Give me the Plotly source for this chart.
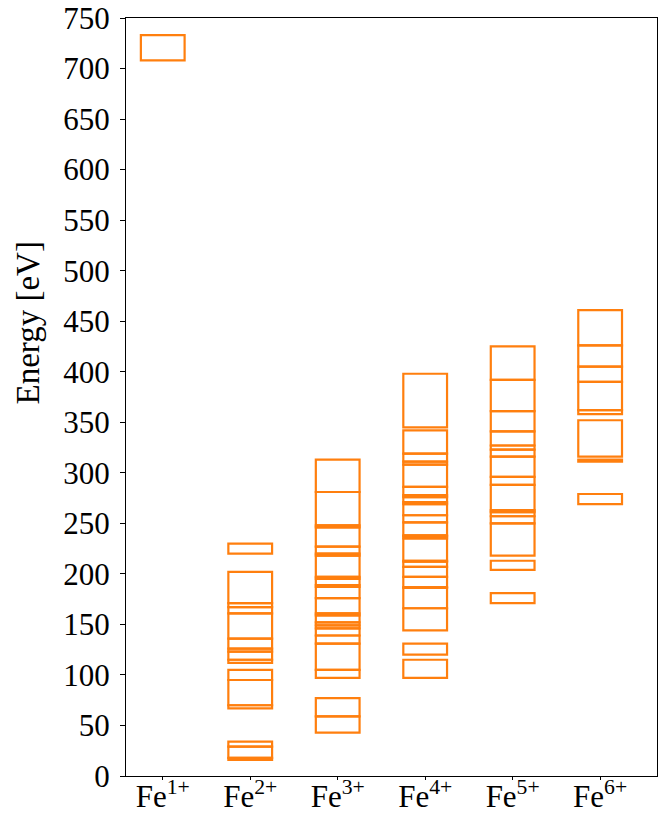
import plotly.graph_objects as go

ions = ["Fe<sup>1+</sup>", "Fe<sup>2+</sup>", "Fe<sup>3+</sup>", "Fe<sup>4+</sup>", "Fe<sup>5+</sup>", "Fe<sup>6+</sup>"]

# energy levels (eV) per ion; each inner list is a contiguous stack of levels
fe1_levels = [[708, 733]]
fe2_levels = [[16, 18, 29, 34], [67, 70, 95, 105],
              [112, 115, 123, 126, 136, 161, 167, 171, 202], [220, 230]]
fe3_levels = [[43, 59, 77],
              [97, 105, 131, 139, 146, 149, 152, 159, 161, 176, 187, 189, 195, 197,
               218, 220, 227, 246, 248, 281, 313]]
fe4_levels = [[97, 115], [120, 131],
              [144, 166, 186, 187, 197, 207, 212, 213, 235, 237, 238, 251, 258, 269,
               271, 276, 278, 286, 308, 311, 319, 342], [345, 398]]
fe5_levels = [[171, 181], [204, 213],
              [218, 250, 257, 261, 263, 288, 296, 316, 323, 327, 341, 361, 392, 425]]
fe6_levels = [[269, 279], [311, 313], [316, 352], [358, 362, 390, 405, 426, 461]]

all_levels = [fe1_levels, fe2_levels, fe3_levels, fe4_levels, fe5_levels, fe6_levels]
y_ticks = list(range(0, 751, 50))

xs, bases, heights = [], [], []
for i, groups in enumerate(all_levels):
    for g in groups:
        for lo, hi in zip(g[:-1], g[1:]):
            xs.append(i)
            bases.append(lo)
            heights.append(hi - lo)

orange = "#ff7f0e"
fig = go.Figure(go.Bar(
    x=xs, y=heights, base=bases, width=0.5,
    marker=dict(color="rgba(0,0,0,0)", line=dict(color=orange, width=2.2)),
    showlegend=False, hoverinfo="skip"))

font = "Liberation Serif"
fig.update_layout(
    width=660, height=814, barmode="overlay",
    paper_bgcolor="white", plot_bgcolor="white",
    margin=dict(l=126, r=3, t=18, b=38, autoexpand=False),
    font=dict(family=font, size=31, color="black"),
    annotations=[dict(text="Energy [eV]", xref="paper", yref="paper",
                      x=-0.185, y=0.598, xanchor="center", yanchor="middle",
                      textangle=-90, showarrow=False, font=dict(size=33))],
)
fig.update_xaxes(
    range=[-0.42, 5.65], tickmode="array", tickvals=list(range(6)), ticktext=ions,
    showline=True, mirror=True, linecolor="black", linewidth=1.2,
    ticks="outside", ticklen=3, tickcolor="black", showgrid=False, zeroline=False,
    tickfont=dict(size=31), automargin=False, ticklabelstandoff=-10,
)
fig.update_yaxes(
    range=[0, 750], tickmode="array", tickvals=y_ticks,
    showline=True, mirror=True, linecolor="black", linewidth=1.2,
    ticks="outside", ticklen=5, tickcolor="black", showgrid=False, zeroline=False,
    tickfont=dict(size=31), automargin=False, ticklabelstandoff=4,
)
fig.write_html("out.html", config={"displayModeBar": False},
               post_script="document.body.style.margin='0';document.body.style.overflow='hidden';")
